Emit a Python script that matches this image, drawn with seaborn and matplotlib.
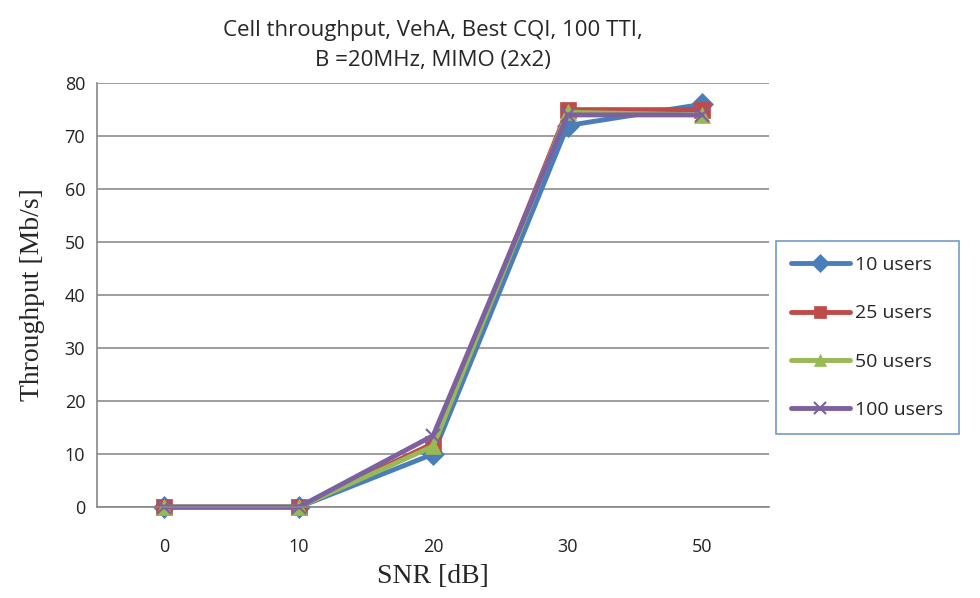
import pandas as pd
import numpy as np
import matplotlib
matplotlib.use('Agg')
import matplotlib.pyplot as plt
import seaborn as sns

# data
snr_labels = ['0', '10', '20', '30', '50']
users_10 = [0, 0, 10, 72, 76]
users_25 = [0, 0, 12, 75, 75]
users_50 = [0, 0, 11.5, 74.5, 74]
users_100 = [0, 0, 13.5, 74, 74]
series_names = ['10 users', '25 users', '50 users', '100 users']

colors = ['#4A7EBB', '#BE4B48', '#98B954', '#7D60A0']
markers = ['D', 's', '^', 'x']

rows = []
for name, vals in zip(series_names, [users_10, users_25, users_50, users_100]):
    for i, v in enumerate(vals):
        rows.append({'pos': i, 'snr': snr_labels[i], 'tput': v, 'series': name})
df = pd.DataFrame(rows)

sns.set_style('white')
plt.rcParams['font.family'] = ['Open Sans', 'DejaVu Sans']

fig = plt.figure(figsize=(9.8, 5.98), dpi=100)
ax = fig.add_axes([0.099, 0.152, 0.686, 0.709])

for name, c, m in zip(series_names, colors, markers):
    sub = df[df['series'] == name]
    sns.lineplot(data=sub, x='pos', y='tput', ax=ax, color=c, linewidth=3.5,
                 marker=m, markersize=11 if m != 'x' else 10,
                 markeredgewidth=1.5 if m == 'x' else 0.5, markeredgecolor=c,
                 label=name, clip_on=False)

ax.set_xlim(-0.5, 4.5)
ax.set_ylim(0, 80)
ax.set_yticks(np.arange(0, 81, 10))
ax.set_xticks(range(len(snr_labels)))
ax.set_xticklabels(snr_labels)
ax.set_xticks(np.arange(-0.5, 5, 1), minor=True)
ax.tick_params(axis='x', which='major', length=0, labelsize=13, pad=22, colors='#222222')
ax.tick_params(axis='x', which='minor', length=6, color='#888888', width=1, direction='out')
ax.tick_params(axis='y', which='major', length=5, color='#888888', labelsize=13, colors='#222222')
ax.yaxis.grid(True, color='#8c8c8c', linewidth=1.2)
ax.set_axisbelow(True)
for side in ['top', 'right']:
    ax.spines[side].set_visible(False)
for side in ['left', 'bottom']:
    ax.spines[side].set_color('#888888')
    ax.spines[side].set_linewidth(1.2)

ax.set_xlabel('SNR [dB]', family='Liberation Serif', fontsize=20, labelpad=6)
ax.set_ylabel('Throughput [Mb/s]', family='Liberation Serif', fontsize=20, labelpad=14)
ax.set_title('Cell throughput, VehA, Best CQI, 100 TTI,\nB =20MHz, MIMO (2x2)',
             fontsize=16, pad=12, linespacing=1.6)

leg = ax.legend(loc='center left', bbox_to_anchor=(0.995, 0.40), frameon=True,
                fancybox=False, fontsize=14, handlelength=3.0, labelspacing=1.55,
                borderpad=0.8, handletextpad=0.3, markerscale=0.8)
leg.get_frame().set_edgecolor('#4F81BD')
leg.get_frame().set_linewidth(1.2)

fig.savefig('out.png', dpi=100)
